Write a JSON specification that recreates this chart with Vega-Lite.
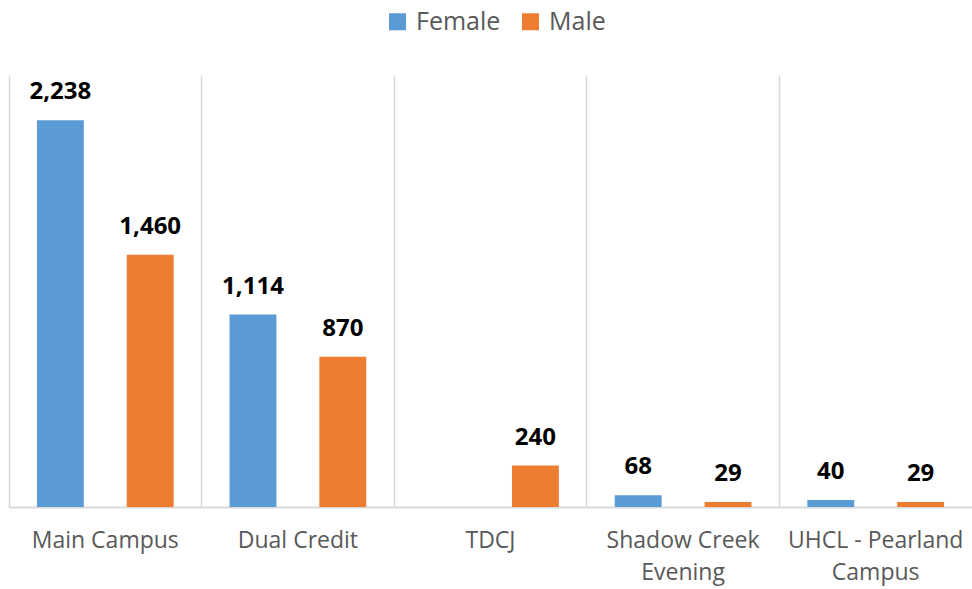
{
  "$schema": "https://vega.github.io/schema/vega-lite/v6.json",
  "width": 963,
  "height": 432,
  "autosize": {"type": "none"},
  "padding": {"left": 9, "top": 75, "right": 0, "bottom": 82},
  "background": "white",
  "config": {
    "view": {"stroke": null},
    "font": "Open Sans"
  },
  "data": {
    "values": [
      {"campus": "Main Campus", "gender": "Female", "count": 2238},
      {"campus": "Main Campus", "gender": "Male", "count": 1460},
      {"campus": "Dual Credit", "gender": "Female", "count": 1114},
      {"campus": "Dual Credit", "gender": "Male", "count": 870},
      {"campus": "TDCJ", "gender": "Male", "count": 240},
      {"campus": "Shadow Creek Evening", "gender": "Female", "count": 68},
      {"campus": "Shadow Creek Evening", "gender": "Male", "count": 29},
      {"campus": "UHCL - Pearland Campus", "gender": "Female", "count": 40},
      {"campus": "UHCL - Pearland Campus", "gender": "Male", "count": 29}
    ]
  },
  "encoding": {
    "x": {
      "field": "campus",
      "type": "nominal",
      "sort": ["Main Campus", "Dual Credit", "TDCJ", "Shadow Creek Evening", "UHCL - Pearland Campus"],
      "scale": {"paddingInner": 0, "paddingOuter": 0},
      "axis": {
        "title": null,
        "labelAngle": 0,
        "labelFont": "Open Sans",
        "labelFontSize": 23,
        "labelColor": "#595959",
        "labelPadding": 22,
        "labelLineHeight": 32,
        "ticks": false,
        "domainColor": "#d9d9d9",
        "domainWidth": 2,
        "grid": true,
        "gridColor": "#d9d9d9",
        "gridWidth": 1.5,
        "bandPosition": 0,
        "labelExpr": "datum.value == 'Shadow Creek Evening' ? ['Shadow Creek', 'Evening'] : datum.value == 'UHCL - Pearland Campus' ? ['UHCL - Pearland', 'Campus'] : datum.value"
      }
    },
    "xOffset": {
      "field": "gender",
      "type": "nominal",
      "sort": ["Female", "Male"],
      "scale": {"paddingInner": 0.478, "paddingOuter": 0.311}
    },
    "y": {
      "field": "count",
      "type": "quantitative",
      "scale": {"domain": [0, 2500], "nice": false},
      "axis": null
    }
  },
  "layer": [
    {
      "mark": {"type": "bar"},
      "encoding": {
        "color": {
          "field": "gender",
          "type": "nominal",
          "scale": {"domain": ["Female", "Male"], "range": ["#5B9BD5", "#ED7D31"]},
          "legend": {
            "orient": "none",
            "legendX": 376,
            "legendY": -66,
            "direction": "horizontal",
            "title": null,
            "symbolType": "square",
            "symbolSize": 289,
            "symbolStrokeWidth": 0,
            "labelFont": "Open Sans",
            "labelFontSize": 25,
            "labelColor": "#595959",
            "labelOffset": 6,
            "columnPadding": 17
          }
        }
      }
    },
    {
      "mark": {
        "type": "text",
        "fontWeight": "bold",
        "fontSize": 24,
        "font": "Open Sans",
        "color": "black",
        "baseline": "alphabetic",
        "dy": -21
      },
      "encoding": {
        "text": {"field": "count", "type": "quantitative", "format": ","}
      }
    }
  ]
}
